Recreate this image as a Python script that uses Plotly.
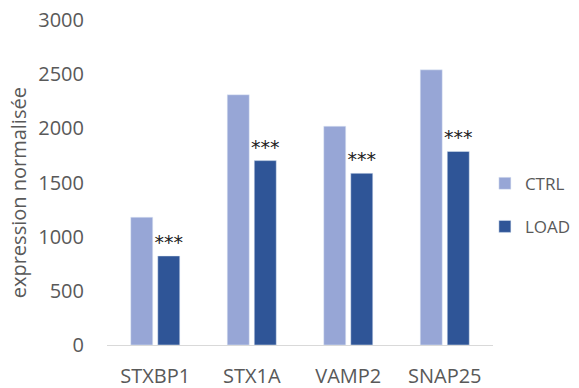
import plotly.graph_objects as go

categories = ["STXBP1", "STX1A", "VAMP2", "SNAP25"]
ctrl_values = [1180, 2310, 2020, 2540]
load_values = [822, 1702, 1585, 1787]
load_signif = ["***", "***", "***", "***"]
y_ticks = [0, 500, 1000, 1500, 2000, 2500, 3000]
y_title = "expression normalisée"

FONT = "Open Sans"
GREY = "#595959"

fig = go.Figure()
fig.add_trace(go.Bar(name="CTRL", x=categories, y=ctrl_values,
                     marker=dict(color="#97A6D6"), legendgroup="a"))
fig.add_trace(go.Bar(name="LOAD", x=categories, y=load_values,
                     marker=dict(color="#2F5597"), legendgroup="b",
                     text=load_signif, textposition="outside", constraintext="none",
                     textfont=dict(color="#222222", size=19, family="DejaVu Sans"),
                     cliponaxis=False))

fig.add_annotation(text=y_title, xref="paper", yref="paper", x=-0.2306, y=0.47,
                   xanchor="center", yanchor="middle", textangle=-90, showarrow=False,
                   font=dict(size=20, color=GREY, family=FONT))

fig.update_layout(
    width=579, height=388,
    margin=dict(l=107, r=86, t=20, b=43, autoexpand=False),
    paper_bgcolor="white", plot_bgcolor="white",
    barmode="group", bargap=0.44, bargroupgap=0.185,
    font=dict(family=FONT, color=GREY, size=17),
    showlegend=True,
    legend=dict(x=0.979, xanchor="left", y=0.43, yanchor="middle",
                font=dict(size=17, color=GREY), tracegroupgap=18,
                traceorder="grouped", bgcolor="rgba(0,0,0,0)"),
    xaxis=dict(showline=True, linecolor="#D9D9D9", linewidth=1,
               ticks="", tickfont=dict(size=20, color=GREY),
               ticklabelstandoff=13, showgrid=False),
    yaxis=dict(range=[0, 3000], tickvals=y_ticks, showgrid=False,
               zeroline=False, showline=False, ticks="",
               tickfont=dict(size=20, color=GREY), ticklabelstandoff=22),
)

fig.write_html("out.html", config={"displayModeBar": False},
               post_script="document.body.style.margin='0';")
